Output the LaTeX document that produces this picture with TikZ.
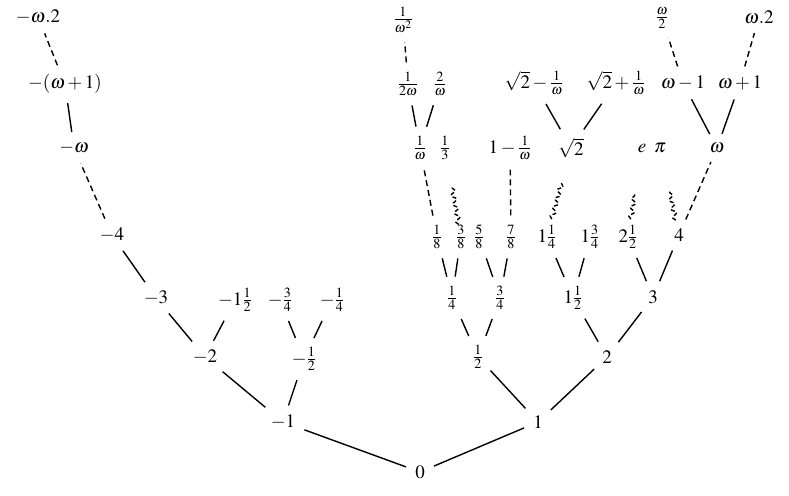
\documentclass[tikz,border=0pt]{standalone}
\usepackage{mathptmx}
\usepackage{tikz}
\usetikzlibrary{calc}
\usetikzlibrary{decorations.pathmorphing}
\tikzset{
	numstyle/.style={inner sep=3pt,font=\fontsize{19}{23}\selectfont},
	limstyle/.style={dash pattern=on 6pt off 4pt},
	wavystyle/.style={shorten >=0pt,shorten <=0pt,dash pattern=on 4pt off 2.5pt,decorate,decoration={snake,amplitude=2.5pt,segment length=9pt}}
}

\begin{document}
\begin{tikzpicture}[x=1pt,y=-1pt,line width=1.4pt,every node/.style=numstyle,shorten >=6pt,shorten <=6pt]
	\useasboundingbox (0,0) rectangle (789,495);
	% day 0 to day 2
	\node (n0) at (420,472) {$0$};
	\node (nm1) at (283,422) {$-1$};
	\node (n1) at (538,422) {$1$};
	\draw (n0)--(nm1);
	\draw (n0)--(n1);
	\node (nm2) at (205,357) {$-2$};
	\node (nmh) at (304,359) {$-\frac12$};
	\node (nh) at (478,357) {$\frac12$};
	\node (n2) at (607,357) {$2$};
	\draw (nm1)--(nm2);
	\draw (nm1)--(nmh);
	\draw (n1)--(nh);
	\draw (n1)--(n2);
	% day 3
	\node (nm3) at (156,298) {$-3$};
	\node (nmoh) at (235,300) {$-1\frac12$};
	\node (nmtq) at (280,300) {$-\frac34$};
	\node (nmq) at (332,300) {$-\frac14$};
	\node (nq) at (452,298) {$\frac14$};
	\node (ntq) at (500,298) {$\frac34$};
	\node (noh) at (573,298) {$1\frac12$};
	\node (n3) at (653,297) {$3$};
	\draw (nm2)--(nm3);
	\draw (nm2)--(nmoh);
	\draw (nmh)--(nmtq);
	\draw (nmh)--(nmq);
	\draw (nh)--(nq);
	\draw (nh)--(ntq);
	\draw (n2)--(noh);
	\draw (n2)--(n3);
	% day 4
	\node (nm4) at (112,235) {$-4$};
	\node (ne1) at (437,237) {$\frac18$};
	\node (ne3) at (461,237) {$\frac38$};
	\node (ne5) at (479,237) {$\frac58$};
	\node (ne7) at (511,237) {$\frac78$};
	\node (nofq) at (547,237) {$1\frac14$};
	\node (notq) at (590,237) {$1\frac34$};
	\node (ntoh) at (628,237) {$2\frac12$};
	\node (n4) at (679,235) {$4$};
	\draw (nm3)--(nm4);
	\draw (nq)--(ne1);
	\draw (nq)--(ne3);
	\draw (ntq)--(ne5);
	\draw (ntq)--(ne7);
	\draw (noh)--(nofq);
	\draw (noh)--(notq);
	\draw (n3)--(ntoh);
	\draw (n3)--(n4);
	% day omega
	\node (nmw) at (74,148) {$-\omega$};
	\node (ninvw) at (420,148) {$\frac1\omega$};
	\node (nthird) at (445,148) {$\frac13$};
	\node (nomw) at (510,148) {$1-\frac1\omega$};
	\node (nsq) at (571,148) {$\sqrt2$};
	\node (ne) at (642,148) {$e$};
	\node (npi) at (660,148) {$\pi$};
	\node (nw) at (717,148) {$\omega$};
	\draw[limstyle] (nm4)--(nmw);
	\draw[limstyle] (ne1)--(ninvw);
	\draw[limstyle] (ne7)--(nomw);
	\draw[limstyle] (n4)--(nw);
	\draw[wavystyle] ($(ne3)!0.14!(nthird)$)--($(ne3)!0.56!(nthird)$);
	\draw[wavystyle] ($(nofq)!0.2!(nsq)$)--($(nofq)!0.62!(nsq)$);
	\draw[wavystyle] ($(ntoh)!0.2!(ne)$)--($(ntoh)!0.48!(ne)$);
	\draw[wavystyle] ($(n4)!0.17!(npi)$)--($(n4)!0.5!(npi)$);
	% day omega+1
	\node (nmwo) at (65,84) {$-(\omega+1)$};
	\node (nhw) at (408,84) {$\frac1{2\omega}$};
	\node (ntw) at (440,84) {$\frac2\omega$};
	\node (nsqm) at (534,83) {$\sqrt2-\frac1\omega$};
	\node (nsqp) at (616,83) {$\sqrt2+\frac1\omega$};
	\node (nwm) at (683,83) {$\omega-1$};
	\node (nwp) at (740,83) {$\omega+1$};
	\draw (nmw)--(nmwo);
	\draw (ninvw)--(nhw);
	\draw (ninvw)--(ntw);
	\draw (nsq)--(nsqm);
	\draw (nsq)--(nsqp);
	\draw (nw)--(nwm);
	\draw (nw)--(nwp);
	% day omega.2
	\node (nmtw) at (38,17) {$-\omega.2$};
	\node (nwsq) at (403,20) {$\frac1{\omega^2}$};
	\node (nwh) at (662,18) {$\frac\omega2$};
	\node (ntwo) at (759,17) {$\omega.2$};
	\draw[limstyle] (nmwo)--(nmtw);
	\draw[limstyle] (nhw)--(nwsq);
	\draw[limstyle] (nwm)--(nwh);
	\draw[limstyle] (nwp)--(ntwo);
\end{tikzpicture}
\end{document}
